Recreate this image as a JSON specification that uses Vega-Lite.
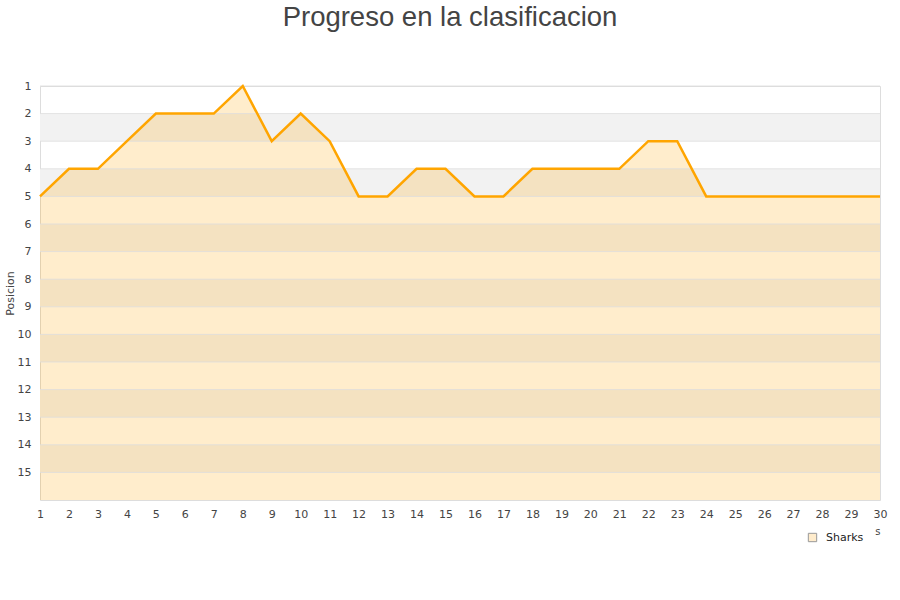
{
  "$schema": "https://vega.github.io/schema/vega-lite/v6.json",
  "autosize": "none",
  "width": 840,
  "height": 414,
  "padding": {"left": 40, "top": 86, "right": 20, "bottom": 100},
  "background": "white",
  "title": {
    "text": "Progreso en la clasificacion",
    "font": "Liberation Sans",
    "fontSize": 27.5,
    "fontWeight": "normal",
    "color": "#444444",
    "anchor": "middle",
    "dx": -10,
    "offset": 49
  },
  "config": {
    "view": {"stroke": "#dddddd", "strokeWidth": 1},
    "axis": {"labelOverlap": false, "labelFont": "DejaVu Sans", "labelFontSize": 11, "labelColor": "#444444", "titleFont": "DejaVu Sans", "titleFontSize": 11, "titleFontWeight": "normal", "titleColor": "#444444"}
  },
  "datasets": {
    "pos": [
      {"jornada": 1, "posicion": 5, "equipo": "Sharks"},
      {"jornada": 2, "posicion": 4, "equipo": "Sharks"},
      {"jornada": 3, "posicion": 4, "equipo": "Sharks"},
      {"jornada": 4, "posicion": 3, "equipo": "Sharks"},
      {"jornada": 5, "posicion": 2, "equipo": "Sharks"},
      {"jornada": 6, "posicion": 2, "equipo": "Sharks"},
      {"jornada": 7, "posicion": 2, "equipo": "Sharks"},
      {"jornada": 8, "posicion": 1, "equipo": "Sharks"},
      {"jornada": 9, "posicion": 3, "equipo": "Sharks"},
      {"jornada": 10, "posicion": 2, "equipo": "Sharks"},
      {"jornada": 11, "posicion": 3, "equipo": "Sharks"},
      {"jornada": 12, "posicion": 5, "equipo": "Sharks"},
      {"jornada": 13, "posicion": 5, "equipo": "Sharks"},
      {"jornada": 14, "posicion": 4, "equipo": "Sharks"},
      {"jornada": 15, "posicion": 4, "equipo": "Sharks"},
      {"jornada": 16, "posicion": 5, "equipo": "Sharks"},
      {"jornada": 17, "posicion": 5, "equipo": "Sharks"},
      {"jornada": 18, "posicion": 4, "equipo": "Sharks"},
      {"jornada": 19, "posicion": 4, "equipo": "Sharks"},
      {"jornada": 20, "posicion": 4, "equipo": "Sharks"},
      {"jornada": 21, "posicion": 4, "equipo": "Sharks"},
      {"jornada": 22, "posicion": 3, "equipo": "Sharks"},
      {"jornada": 23, "posicion": 3, "equipo": "Sharks"},
      {"jornada": 24, "posicion": 5, "equipo": "Sharks"},
      {"jornada": 25, "posicion": 5, "equipo": "Sharks"},
      {"jornada": 26, "posicion": 5, "equipo": "Sharks"},
      {"jornada": 27, "posicion": 5, "equipo": "Sharks"},
      {"jornada": 28, "posicion": 5, "equipo": "Sharks"},
      {"jornada": 29, "posicion": 5, "equipo": "Sharks"},
      {"jornada": 30, "posicion": 5, "equipo": "Sharks"}
    ],
    "bands": [
      {"desde": 2, "hasta": 3},
      {"desde": 4, "hasta": 5},
      {"desde": 6, "hasta": 7},
      {"desde": 8, "hasta": 9},
      {"desde": 10, "hasta": 11},
      {"desde": 12, "hasta": 13},
      {"desde": 14, "hasta": 15}
    ],
    "grid": [{"g": 1}, {"g": 2}, {"g": 3}, {"g": 4}, {"g": 5}, {"g": 6}, {"g": 7}, {"g": 8}, {"g": 9}, {"g": 10}, {"g": 11}, {"g": 12}, {"g": 13}, {"g": 14}, {"g": 15}]
  },
  "layer": [
    {
      "data": {"name": "bands"},
      "mark": {"type": "rect", "color": "#f2f2f2"},
      "encoding": {
        "y": {"field": "desde", "type": "quantitative", "scale": {"domain": [1, 16], "reverse": true, "nice": false, "zero": false},
          "axis": {"values": [1,2,3,4,5,6,7,8,9,10,11,12,13,14,15], "labelOverlap": false, "grid": false, "ticks": false, "domain": false, "labelPadding": 9, "title": "Posicion", "titleX": -30, "titleY": 207, "titleAngle": -90, "titleBaseline": "middle", "titleAlign": "center"}},
        "y2": {"field": "hasta"}
      }
    },
    {
      "data": {"name": "pos"},
      "mark": {"type": "area", "fillOpacity": 0.2, "color": "#ffa500", "line": false},
      "encoding": {
        "x": {"field": "jornada", "type": "quantitative", "scale": {"domain": [1, 30], "nice": false, "zero": false},
          "axis": {"values": [1,2,3,4,5,6,7,8,9,10,11,12,13,14,15,16,17,18,19,20,21,22,23,24,25,26,27,28,29,30], "labelOverlap": false, "labelBound": false, "labelFlush": false, "grid": false, "ticks": false, "domain": false, "labelPadding": 8, "title": "s", "titleAnchor": "end", "titleFontSize": 10, "titlePadding": 7}},
        "y": {"field": "posicion", "type": "quantitative", "scale": {"domain": [1, 16], "reverse": true, "nice": false, "zero": false},
          "axis": {"values": [1,2,3,4,5,6,7,8,9,10,11,12,13,14,15], "labelOverlap": false, "grid": false, "ticks": false, "domain": false, "labelPadding": 9, "title": "Posicion", "titleX": -30, "titleY": 207, "titleAngle": -90, "titleBaseline": "middle", "titleAlign": "center"}},
        "y2": {"datum": 16}
      }
    },
    {
      "data": {"name": "grid"},
      "mark": {"type": "rule", "color": "#dddddd", "strokeWidth": 1, "opacity": 0.8},
      "encoding": {
        "y": {"field": "g", "type": "quantitative", "scale": {"domain": [1, 16], "reverse": true, "nice": false, "zero": false},
          "axis": {"values": [1,2,3,4,5,6,7,8,9,10,11,12,13,14,15], "labelOverlap": false, "grid": false, "ticks": false, "domain": false, "labelPadding": 9, "title": "Posicion", "titleX": -30, "titleY": 207, "titleAngle": -90, "titleBaseline": "middle", "titleAlign": "center"}}
      }
    },
    {
      "data": {"name": "pos"},
      "mark": {"type": "line", "color": "#ffa500", "strokeWidth": 2.5, "strokeJoin": "miter"},
      "encoding": {
        "x": {"field": "jornada", "type": "quantitative", "scale": {"domain": [1, 30], "nice": false, "zero": false},
          "axis": {"values": [1,2,3,4,5,6,7,8,9,10,11,12,13,14,15,16,17,18,19,20,21,22,23,24,25,26,27,28,29,30], "labelOverlap": false, "labelBound": false, "labelFlush": false, "grid": false, "ticks": false, "domain": false, "labelPadding": 8, "title": "s", "titleAnchor": "end", "titleFontSize": 10, "titlePadding": 7}},
        "y": {"field": "posicion", "type": "quantitative", "scale": {"domain": [1, 16], "reverse": true, "nice": false, "zero": false},
          "axis": {"values": [1,2,3,4,5,6,7,8,9,10,11,12,13,14,15], "labelOverlap": false, "grid": false, "ticks": false, "domain": false, "labelPadding": 9, "title": "Posicion", "titleX": -30, "titleY": 207, "titleAngle": -90, "titleBaseline": "middle", "titleAlign": "center"}}
      }
    },
    {
      "data": {"name": "pos"},
      "mark": {"type": "point", "filled": true, "opacity": 0, "shape": "square"},
      "encoding": {
        "x": {"field": "jornada", "type": "quantitative", "scale": {"domain": [1, 30], "nice": false, "zero": false},
          "axis": {"values": [1,2,3,4,5,6,7,8,9,10,11,12,13,14,15,16,17,18,19,20,21,22,23,24,25,26,27,28,29,30], "labelOverlap": false, "labelBound": false, "labelFlush": false, "grid": false, "ticks": false, "domain": false, "labelPadding": 8, "title": "s", "titleAnchor": "end", "titleFontSize": 10, "titlePadding": 7}},
        "y": {"field": "posicion", "type": "quantitative", "scale": {"domain": [1, 16], "reverse": true, "nice": false, "zero": false},
          "axis": {"values": [1,2,3,4,5,6,7,8,9,10,11,12,13,14,15], "labelOverlap": false, "grid": false, "ticks": false, "domain": false, "labelPadding": 9, "title": "Posicion", "titleX": -30, "titleY": 207, "titleAngle": -90, "titleBaseline": "middle", "titleAlign": "center"}},
        "color": {"field": "equipo", "type": "nominal", "scale": {"range": ["#ffeccc"]},
          "legend": {"title": null, "orient": "none", "legendX": 767, "legendY": 446, "labelOffset": 8, "symbolType": "square", "symbolSize": 70, "symbolOpacity": 1, "symbolStrokeColor": "#999999", "symbolStrokeWidth": 1, "labelFont": "DejaVu Sans", "labelFontSize": 11, "labelColor": "#222222"}}
      }
    }
  ]
}
